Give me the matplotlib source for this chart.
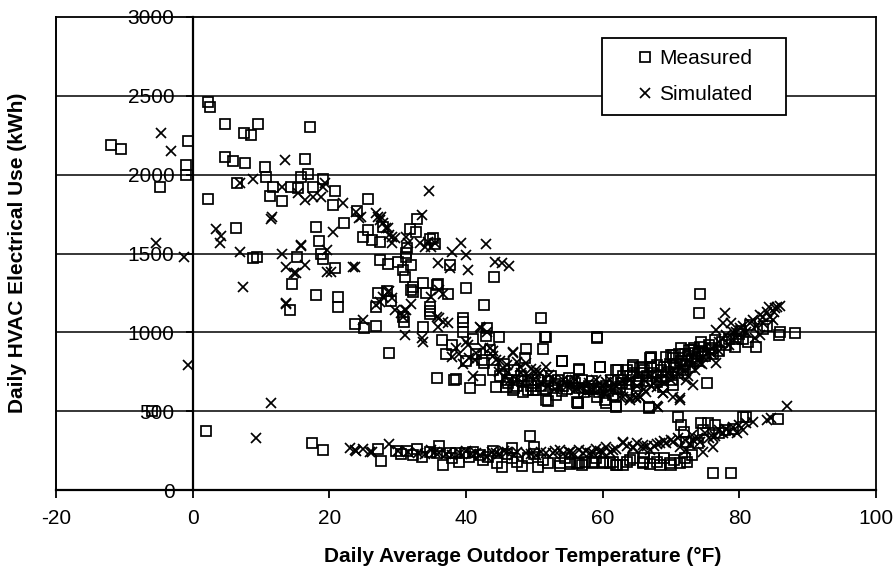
import matplotlib
matplotlib.use("Agg")
import matplotlib.pyplot as plt

plt.rcParams['font.family'] = ['Liberation Sans', 'DejaVu Sans']

# Daily measured HVAC electrical use vs. daily average outdoor temperature
measured_temp = [
    -12.0, -10.5, -4.8, -6.0, -0.7, -1.0, -1.0, 1.9,
    2.2, 2.6, 4.8, 7.5, 8.6, 9.5, 17.1,
    4.8, 5.9, 7.6, 10.6, 16.5, 16.9, 15.9, 19.0,
    10.8, 11.7, 11.3, 13.0, 14.4, 15.4, 17.6, 20.9, 20.6, 6.5, 2.2, 6.3, 25.6, 22.1, 18.0,
    18.5, 18.8, 19.1, 20.8, 15.3, 8.9, 9.4, 24.0, 24.9, 25.7, 26.2, 27.4, 27.9, 27.4, 28.6, 30.0,
    31.8, 32.7, 32.9, 35.1, 31.3, 31.2, 31.2, 32.0, 30.8, 31.0, 37.6, 44.1, 14.6, 18.0,
    21.2, 21.2, 27.1, 26.8, 33.7, 32.2, 32.2, 34.2, 35.9, 37.4, 40.0, 42.6, 34.7, 34.7, 34.7,
    14.2, 30.8, 30.9, 39.6, 39.6, 23.7, 26.9, 33.7, 43.0, 25.0, 32.0, 35.8,
    34.8, 35.5, 28.5, 29.0, 51.0, 51.5,
    28.8, 35.8, 38.3, 38.5, 40.6, 42.9, 44.9, 48.8, 51.3, 51.7, 54.0, 56.6, 59.2, 59.6, 66.9,
    52.0, 56.4, 62.0, 66.8, 44.4, 45.9, 49.0, 50.3, 43.5, 42.3, 42.7, 48.7, 46.9, 48.4, 49.8,
    51.7, 53.2, 56.2, 59.1, 60.3, 62.5, 63.5, 64.9, 67.9, 68.8, 70.3, 70.3, 69.3, 67.1, 64.5,
    65.7, 62.0,
    47.5, 48.2, 49.0, 50.0, 51.0, 52.0, 52.8, 53.5, 54.2, 54.8, 55.5, 56.5, 57.3, 58.0, 58.8,
    59.8, 60.8, 61.5, 62.2, 63.0, 63.8, 64.5, 65.3, 66.0, 66.5, 67.3, 68.0, 68.5, 69.2, 69.8,
    70.5, 71.0, 71.5, 72.0, 72.5, 73.0, 73.5, 74.0, 45.0, 46.0, 44.0, 45.5, 47.0, 41.5, 40.0,
    38.0, 36.5, 37.0, 42.0, 39.5, 41.0,
    46.2, 47.0, 48.0, 49.5, 50.5, 51.5, 52.5, 53.0, 54.0, 55.0, 56.0, 57.0, 57.8, 58.5, 59.5,
    60.5, 61.2, 62.0, 62.8, 63.5, 64.0, 65.0, 65.8, 66.5, 67.0, 67.8, 68.5, 69.0, 69.5, 70.2,
    70.8, 71.2, 71.8, 72.3, 72.8, 73.3, 73.8, 74.5, 75.0, 75.5, 76.2, 77.5, 78.5, 80.0, 80.2,
    74.2, 74.1, 59.2, 54.1, 56.6, 59.6, 67.1, 62.2, 64.4, 65.4, 70.0, 70.3, 72.7, 73.2, 74.2,
    74.4, 79.3, 81.5, 81.3, 82.5, 83.5, 85.8, 88.1, 56.4, 60.5, 62.0, 66.8, 75.2, 75.0, 76.0,
    77.0, 78.0, 79.5, 80.5, 84.0, 86.0, 76.5, 71.5, 72.0,
    17.4, 19.1, 27.1, 27.6, 29.8, 31.3, 32.3, 33.5, 34.7, 35.7, 36.1, 36.7, 37.6, 38.6, 39.8,
    43.2, 45.2, 46.8, 46.8, 48.2, 49.3, 49.9, 50.5, 51.3, 53.8, 55.2, 56.2, 57.4, 58.8, 60.0,
    61.5, 62.0, 65.9, 53.7, 55.2, 56.6, 58.5, 60.0, 62.1, 65.9, 66.9, 68.4, 69.8, 71.3, 72.3,
    71.0, 71.5, 71.9, 72.2, 74.4, 75.4, 76.4, 74.7, 77.9, 80.5, 81.0, 85.6, 76.1, 78.8,
    41.0, 42.0, 44.0, 63.5, 64.5, 67.5, 70.5,
    38.0, 39.0, 40.5, 42.5, 44.5, 46.0, 47.5, 49.0, 50.0, 52.0, 54.5, 57.0, 59.0, 61.0, 63.0,
    64.0, 66.0, 68.0, 69.0, 70.0, 72.0, 73.0, 74.0, 77.0, 79.0, 30.5, 32.8,
]
measured_kwh = [
    2190, 2160, 1924, 500, 2215, 2063, 2000, 376,
    2463, 2431, 2319, 2266, 2249, 2319, 2304,
    2114, 2089, 2076, 2050, 2101, 2004, 1983, 1972,
    1983, 1924, 1867, 1835, 1924, 1913, 1920, 1898, 1807, 1949, 1846, 1664, 1846, 1695, 1670,
    1581, 1497, 1465, 1406, 1480, 1470, 1480, 1771, 1607, 1649, 1586, 1575, 1666, 1459, 1431, 1448,
    1655, 1634, 1719, 1597, 1533, 1505, 1480, 1427, 1395, 1353, 1427, 1353, 1306, 1237,
    1226, 1159, 1251, 1163, 1315, 1286, 1258, 1251, 1305, 1241, 1283, 1173, 1163, 1137, 1114,
    1142, 1099, 1067, 1089, 1063, 1053, 1040, 1032, 1026, 1026, 1268, 1300,
    1590, 1560, 1260, 1200, 1093, 968,
    871, 708, 696, 705, 645, 977, 968, 894, 894, 968, 820, 765, 968, 782, 837,
    566, 550, 528, 518, 655, 655, 634, 634, 888, 824, 804, 835, 634, 623, 634,
    571, 602, 560, 592, 571, 655, 634, 687, 687, 655, 666, 856, 846, 842, 793,
    782, 761,
    660, 690, 700, 680, 660, 690, 650, 700, 660, 640, 690, 650, 620, 660, 640,
    650, 630, 600, 700, 720, 670, 740, 700, 760, 720, 740, 790, 760, 720, 800,
    780, 740, 820, 790, 850, 830, 870, 860, 720, 700, 760, 800, 760, 860, 820,
    920, 950, 860, 700, 1000, 960,
    680, 650, 720, 660, 700, 640, 720, 670, 630, 710, 680, 700, 640, 690, 620,
    660, 700, 640, 680, 760, 720, 660, 740, 690, 780, 720, 700, 780, 750, 700,
    800, 860, 760, 820, 780, 900, 820, 880, 850, 920, 860, 940, 960, 990, 1010,
    1243, 1120, 966, 820, 761, 782, 839, 761, 782, 772, 856, 835, 888, 888, 909,
    940, 909, 1046, 940, 909, 1019, 983, 998, 550, 550, 533, 524, 680, 870, 900,
    880, 920, 960, 960, 1040, 1000, 950, 900, 860,
    300, 254, 260, 184, 249, 249, 222, 207, 243, 233, 279, 159, 233, 237, 233,
    211, 148, 264, 201, 152, 342, 275, 148, 190, 152, 180, 169, 180, 180, 180,
    180, 159, 180, 171, 165, 171, 171, 171, 160, 171, 165, 160, 171, 171, 175,
    465, 412, 370, 306, 423, 423, 412, 380, 380, 465, 465, 448, 110, 110,
    240, 220, 250, 180, 200, 200, 190,
    200, 180, 210, 190, 170, 230, 180, 200, 230, 170, 200, 160, 200, 170, 160,
    190, 200, 180, 200, 160, 200, 220, 300, 360, 390, 230, 260,
]

# Daily simulated HVAC electrical use
simulated_temp = [
    -4.6, -3.1, 6.9, 8.8, 13.5, 13.0, -5.4, -1.2, -0.7, 3.4, 4.1, 4.0, 6.9, 11.5, 11.6,
    13.0, 13.7, 15.1, 15.9, 16.4, 15.4, 16.5, 17.6, 18.8, 20.5, 19.6, 22.0, 23.9, 24.4, 23.7,
    20.3, 27.1, 27.9, 28.6, 29.1, 19.3, 19.1, 11.5, 9.2, 7.4, 13.7, 14.9, 19.6, 23.5, 34.6,
    24.7, 26.9, 27.4, 27.6, 28.3, 28.8, 29.6, 29.1, 31.2, 31.5, 33.5, 33.2, 34.0, 34.4, 34.9,
    35.4, 37.9, 39.3, 40.0, 42.9, 44.3, 45.3, 46.3, 15.9, 35.9, 37.6, 40.3, 13.7, 28.7, 27.9,
    27.4, 26.9, 29.6, 30.5, 31.2, 34.9, 36.1, 36.6, 36.1, 37.4, 42.0, 24.9, 28.6, 29.1, 31.1,
    30.8, 35.7, 36.6, 35.9, 31.0, 33.7, 33.5, 37.9, 40.0, 40.3, 40.5, 41.3, 41.0, 42.2, 43.0,
    44.4, 45.4, 46.1, 46.9, 47.4, 47.9, 48.8, 50.3, 51.7, 50.8, 54.2, 56.2, 58.1, 60.0, 61.0,
    63.0, 64.9, 65.4, 44.9, 45.7, 46.4, 47.4, 48.4, 50.3, 52.2, 53.7, 55.2, 55.9, 56.6, 57.6,
    58.6, 59.6, 60.5, 61.5, 62.5, 64.0, 64.9, 66.4, 67.9, 68.8, 70.3, 71.3, 67.9, 46.9, 38.5,
    39.0, 43.5, 44.0, 49.5, 52.8, 32.0,
    45.0, 46.0, 48.0, 49.0, 50.0, 51.0, 52.0, 53.0, 54.8, 56.0, 57.0, 58.0, 59.0, 60.0, 61.0,
    62.0, 63.0, 64.0, 65.0, 66.0, 67.0, 68.0, 69.5, 71.5, 73.5, 74.5, 76.0, 77.0, 78.5, 79.0,
    80.0, 81.0, 82.5, 83.5, 84.5, 85.0, 44.0, 42.5, 41.5, 39.5,
    77.9, 77.6, 78.8, 76.6, 79.1, 80.1, 83.5, 84.4, 85.2, 84.9, 82.3, 83.0, 76.6, 75.2, 74.7,
    74.2, 71.3, 68.1, 64.0, 65.4, 68.8, 72.2, 73.2, 87.0, 70.0, 71.0, 72.0, 73.0, 74.0, 75.5,
    76.0, 77.0, 78.0, 79.5, 80.5, 81.5, 82.0, 83.0, 84.0, 85.5, 86.0, 69.0, 67.0, 66.0, 70.5,
    72.5,
    23.0, 23.9, 24.9, 25.9, 28.8, 23.7, 26.2, 33.0, 34.0, 34.9, 36.1, 37.1, 39.1, 41.5, 43.0,
    44.4, 44.9, 48.8, 50.3, 51.7, 52.7, 54.2, 55.7, 57.1, 58.6, 60.0, 61.5, 63.0, 64.4, 65.9,
    53.7, 55.2, 56.6, 58.1, 59.6, 61.0, 63.0, 64.4, 65.9, 66.9, 68.4, 69.3, 70.3, 71.3, 72.2,
    73.2, 74.2, 74.7, 76.1, 76.1, 77.6, 78.6, 79.6, 80.5, 81.0, 84.0, 84.7, 30.0, 31.5, 38.0,
    40.0, 42.0, 46.0, 47.0, 67.5, 70.0, 72.8, 75.5,
    45.5, 47.5, 49.5, 51.0, 53.0, 55.0, 57.5, 59.0, 60.5, 62.0, 63.5, 65.0, 66.5, 68.0, 69.0,
    71.0, 72.0, 73.0, 74.0, 75.0, 76.5, 77.0, 78.0, 79.0, 80.0, 82.0, 35.5, 40.8, 43.8,
]
simulated_kwh = [
    2266, 2150, 1949, 1972, 2093, 1924, 1568, 1480, 793, 1653, 1611, 1565, 1508, 1717, 1730,
    1497, 1412, 1378, 1554, 1427, 1882, 1839, 1860, 1860, 1638, 1522, 1818, 1765, 1723, 1412,
    1385, 1734, 1691, 1660, 1607, 1945, 1920, 550, 328, 1289, 1184, 1378, 1385, 1416, 1896,
    1734, 1755, 1712, 1734, 1660, 1617, 1596, 1565, 1603, 1568, 1744, 1565, 1543, 1575, 1543,
    1565, 1512, 1565, 1490, 1560, 1448, 1440, 1420, 1547, 1442, 1406, 1395, 1180, 1264, 1226,
    1194, 1173, 1142, 1120, 1142, 1226, 1268, 1243, 1089, 1061, 1036, 1078, 1258, 1216, 1142,
    1099, 1099, 1067, 1036, 983, 940, 962, 846, 940, 920, 835, 824, 723, 1026, 1004,
    824, 772, 750, 867, 814, 782, 804, 761, 782, 740, 698, 645, 634, 623, 698,
    592, 581, 592, 750, 719, 698, 698, 677, 740, 729, 655, 687, 634, 655, 623,
    634, 645, 687, 634, 592, 571, 592, 623, 655, 613, 592, 571, 533, 877, 900,
    860, 900, 880, 770, 700, 1180,
    820, 790, 740, 720, 700, 680, 660, 640, 660, 700, 660, 680, 700, 660, 640,
    660, 690, 700, 660, 700, 720, 700, 740, 780, 760, 800, 860, 880, 920, 960,
    980, 1000, 1040, 1060, 1100, 1130, 850, 900, 870, 800,
    1125, 1057, 1057, 1015, 1004, 1026, 1099, 1163, 1152, 1078, 962, 983, 807, 867, 846,
    804, 582, 528, 582, 592, 613, 698, 666, 533, 700, 730, 760, 790, 830, 880,
    900, 940, 980, 1000, 1040, 1060, 1080, 1110, 1130, 1160, 1170, 680, 660, 640, 760,
    720,
    264, 249, 258, 243, 292, 254, 243, 233, 228, 254, 237, 228, 237, 233, 211,
    233, 228, 233, 222, 237, 233, 228, 233, 233, 233, 243, 254, 296, 264, 264,
    254, 243, 254, 237, 248, 243, 306, 275, 285, 254, 300, 296, 306, 275, 254,
    317, 306, 243, 338, 275, 359, 370, 359, 380, 423, 444, 455, 250, 240, 220,
    245, 225, 240, 220, 280, 320, 290, 330,
    250, 240, 230, 240, 250, 240, 250, 260, 270, 260, 280, 300, 280, 290, 310,
    330, 320, 350, 330, 360, 340, 380, 390, 400, 410, 430, 240, 230, 240,
]

x_ticks = [-20, 0, 20, 40, 60, 80, 100]
y_ticks = [0, 500, 1000, 1500, 2000, 2500, 3000]
series_names = ["Measured", "Simulated"]

fig = plt.figure(figsize=(8.93, 5.68), dpi=100)
ax = fig.add_axes([56 / 893, 1 - 490 / 568, 820 / 893, 473 / 568])

ax.set_xlim(-20, 100)
ax.set_ylim(0, 3000)

# horizontal gridlines
for yv in y_ticks[1:-1]:
    ax.axhline(yv, color='black', lw=1.1, zorder=1)

ax.plot(measured_temp, measured_kwh, linestyle='none', marker='s', ms=6.5,
        mfc='none', mec='black', mew=1.25, label=series_names[0], zorder=3)
ax.plot(simulated_temp, simulated_kwh, linestyle='none', marker='x', ms=6.8,
        mec='black', mew=1.25, label=series_names[1], zorder=3)

# y axis crosses at x = 0; the frame keeps a left edge at x = -20
ax.spines['left'].set_position(('data', 0))
ax.spines['left'].set_linewidth(1.6)
ax.axvline(-20, color='black', lw=1.4, zorder=2, clip_on=False)
for side in ('top', 'right'):
    ax.spines[side].set_linewidth(1.3)
ax.spines['bottom'].set_linewidth(1.6)

ax.set_xticks(x_ticks)
ax.set_yticks(y_ticks)
ax.set_xticklabels([str(v) for v in x_ticks])
ax.set_yticklabels([str(v) for v in y_ticks])
ax.tick_params(axis='x', direction='out', length=6, width=1.3, pad=8,
               labelsize=15, colors='black')
ax.tick_params(axis='y', direction='out', length=5, width=1.3, pad=8,
               labelsize=15, colors='black')

fig.text(523 / 893, 1 - 556 / 568, "Daily Average Outdoor Temperature (°F)",
         ha='center', va='center', fontsize=15, fontweight='bold')
fig.text(18 / 893, 1 - 253 / 568, "Daily HVAC Electrical Use (kWh)",
         ha='center', va='center', rotation=90, fontsize=15, fontweight='bold')

leg = ax.legend(loc='upper left', bbox_to_anchor=(0.666, 0.793, 0.224, 0.163),
                mode='expand', borderaxespad=0, fontsize=15, frameon=True,
                fancybox=False, framealpha=1, edgecolor='black',
                handlelength=3.0, handletextpad=-0.8, borderpad=0.55,
                labelspacing=0.8, markerscale=1.0)
leg.get_frame().set_linewidth(1.3)
leg.set_zorder(5)

fig.savefig("out.png", dpi=100)
